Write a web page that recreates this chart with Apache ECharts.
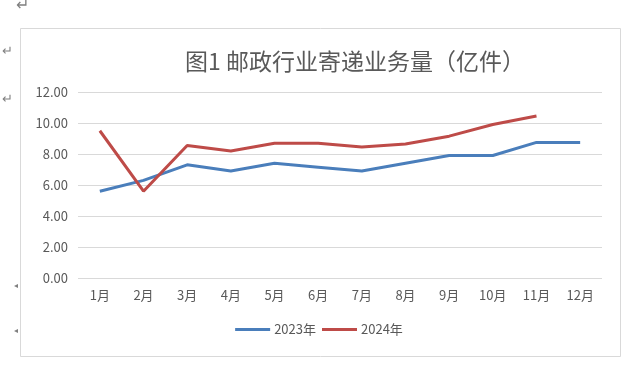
<!DOCTYPE html>
<html>
<head>
<meta charset="utf-8">
<script src="https://cdn.jsdelivr.net/npm/echarts@6/dist/echarts.min.js"></script>
<style>html,body{margin:0;padding:0;background:#fff;}#c{width:638px;height:378px;}</style>
</head>
<body>
<div id="c"></div>
<script>
const categories = ['1月','2月','3月','4月','5月','6月','7月','8月','9月','10月','11月','12月'];
const series2023 = [5.6, 6.3, 7.3, 6.9, 7.4, 7.15, 6.9, 7.4, 7.9, 7.9, 8.75, 8.75];
const series2024 = [9.5, 5.6, 8.55, 8.2, 8.7, 8.7, 8.45, 8.65, 9.15, 9.9, 10.45];
const yTicks = { min: 0, max: 12, interval: 2 };
const titleText = '图1 邮政行业寄递业务量（亿件）';

const font = '"Noto Sans CJK SC", "Microsoft YaHei", sans-serif';
const chart = echarts.init(document.getElementById('c'), null, { renderer: 'canvas' });
chart.setOption({
  animation: false,
  backgroundColor: '#fff',
  title: {
    text: titleText, left: 180, top: 45,
    textStyle: { fontFamily: font, fontSize: 23, fontWeight: 'normal', color: '#595959' }
  },
  legend: {
    bottom: 37, left: 'center', itemWidth: 35, itemHeight: 3, itemGap: 6,
    icon: 'rect',
    textStyle: { fontFamily: font, fontSize: 13, color: '#595959', padding: [0, 0, 0, -1] },
    data: ['2023年', '2024年']
  },
  grid: { left: 78, right: 36, top: 92, bottom: 100, containLabel: false },
  xAxis: {
    type: 'category', data: categories, boundaryGap: true,
    axisLine: { show: false }, axisTick: { show: false },
    axisLabel: { fontFamily: font, fontSize: 13, color: '#595959', margin: 11 }
  },
  yAxis: {
    type: 'value', min: yTicks.min, max: yTicks.max, interval: yTicks.interval,
    axisLine: { show: false }, axisTick: { show: false },
    axisLabel: { fontFamily: font, fontSize: 13, color: '#595959', margin: 10,
      formatter: v => v.toFixed(2) },
    splitLine: { lineStyle: { color: '#d9d9d9', width: 1 } }
  },
  series: [
    { name: '2023年', type: 'line', data: series2023, symbol: 'none',
      lineStyle: { color: '#4A7EBB', width: 3 }, itemStyle: { color: '#4A7EBB' } },
    { name: '2024年', type: 'line', data: series2024, symbol: 'none',
      lineStyle: { color: '#BE4B48', width: 3 }, itemStyle: { color: '#BE4B48' } }
  ],
  graphic: [
    { type: 'rect', shape: { x: 20.5, y: 28.5, width: 600, height: 328 },
      style: { fill: 'none', stroke: '#d9d9d9', lineWidth: 1 }, silent: true, z: -1 },
    { type: 'text', left: 16, top: -4, style: { text: '↵', fontSize: 16, fill: '#808080', fontFamily: font } },
    { type: 'text', left: 2, top: 44, style: { text: '↵', fontSize: 13, fill: '#808080', fontFamily: font } },
    { type: 'text', left: 2, top: 92, style: { text: '↵', fontSize: 13, fill: '#808080', fontFamily: font } },
    { type: 'text', left: 14, top: 281, style: { text: '◂', fontSize: 8, fill: '#808080', fontFamily: font } },
    { type: 'text', left: 14, top: 326, style: { text: '◂', fontSize: 8, fill: '#808080', fontFamily: font } }
  ]
});
</script>
</body>
</html>
